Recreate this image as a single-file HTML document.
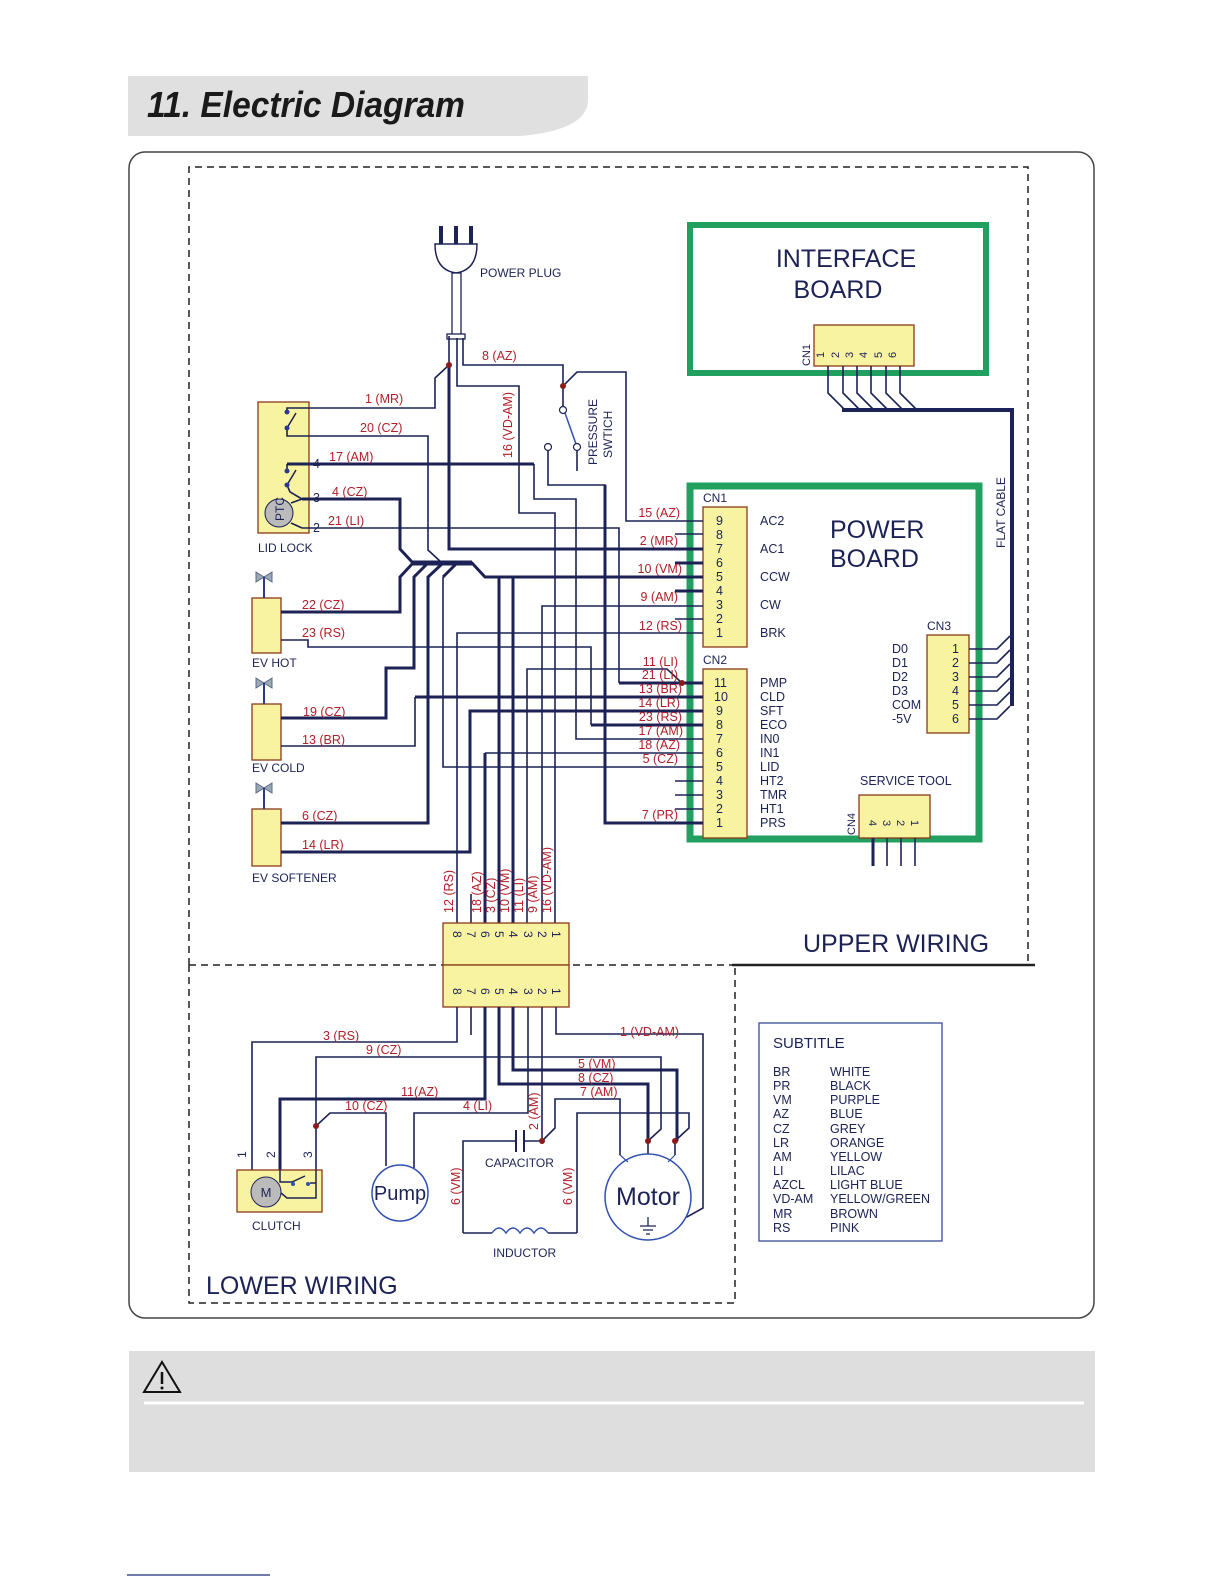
<!DOCTYPE html>
<html><head><meta charset="utf-8"><style>
body{margin:0;background:#fff}
svg{display:block}
text{font-family:"Liberation Sans",Arial,sans-serif}
.r{fill:#b0202a}
.k{fill:#1c2255}
.w{fill:none;stroke:#1c2255;stroke-width:1.6}
.t{fill:none;stroke:#1c2255;stroke-width:3}
.y{fill:#f8f3a0;stroke:#8a3a1a;stroke-width:1.3}
.d{fill:#8b1a1a}
</style></head><body>
<svg width="1224" height="1584" viewBox="0 0 1224 1584" xmlns="http://www.w3.org/2000/svg" font-size="12.5">
<!-- header -->
<path d="M128,76 H588 V100 Q588,130 520,136 H128 Z" fill="#e0e0e0"/>
<text x="147" y="117" font-size="36" font-weight="bold" font-style="italic" fill="#1a1a1a" textLength="318" lengthAdjust="spacingAndGlyphs">11. Electric Diagram</text>
<!-- frame -->
<rect x="129" y="152" width="965" height="1166" rx="16" fill="none" stroke="#444" stroke-width="1.5"/>
<!-- dashed regions -->
<g fill="none" stroke="#222" stroke-width="1.5" stroke-dasharray="7,5">
<path d="M189,965 V167 H1028 V965"/>
<path d="M189,965 H732"/>
<path d="M189,965 V1303 H735 V965"/>
</g>
<path d="M732,965 H1035" stroke="#222" stroke-width="2.5"/>
<text x="803" y="952" font-size="25" fill="#1c2255">UPPER WIRING</text>
<text x="206" y="1294" font-size="25" fill="#1c2255">LOWER WIRING</text>

<!-- interface board -->
<rect x="690" y="225" width="296" height="148" fill="none" stroke="#22a060" stroke-width="6"/>
<text x="846" y="267" font-size="25" fill="#1c2255" text-anchor="middle">INTERFACE</text>
<text x="838" y="298" font-size="25" fill="#1c2255" text-anchor="middle">BOARD</text>
<rect class="y" x="814" y="325" width="100" height="41"/>
<text transform="translate(810,366) rotate(-90)" class="k" font-size="11">CN1</text>
<g class="k" font-size="11">
<text transform="translate(824,358) rotate(-90)">1</text><text transform="translate(839,358) rotate(-90)">2</text><text transform="translate(853,358) rotate(-90)">3</text><text transform="translate(867,358) rotate(-90)">4</text><text transform="translate(882,358) rotate(-90)">5</text><text transform="translate(896,358) rotate(-90)">6</text>
</g>
<g class="w" stroke-width="1.3">
<path d="M828,366V393L845,410"/><path d="M843,366V393L860,410"/><path d="M857,366V393L874,410"/><path d="M871,366V393L888,410"/><path d="M886,366V393L903,410"/><path d="M900,366V393L917,410"/>
</g>
<path d="M842,410H1012V706" fill="none" stroke="#1c2255" stroke-width="4"/>
<text transform="translate(1005,548) rotate(-90)" class="k" font-size="12">FLAT CABLE</text>

<!-- power board -->
<rect x="690" y="486" width="289" height="353" fill="none" stroke="#22a060" stroke-width="7"/>
<text x="830" y="538" font-size="25" fill="#1c2255">POWER</text>
<text x="830" y="567" font-size="25" fill="#1c2255">BOARD</text>
<rect class="y" x="703" y="507" width="44" height="140"/>
<rect class="y" x="703" y="669" width="44" height="169"/>
<text x="703" y="502" class="k" font-size="12">CN1</text>
<text x="703" y="664" class="k" font-size="12">CN2</text>
<g class="k" font-size="12.5">
<text x="716" y="525">9</text><text x="716" y="539">8</text><text x="716" y="553">7</text><text x="716" y="567">6</text><text x="716" y="581">5</text><text x="716" y="595">4</text><text x="716" y="609">3</text><text x="716" y="623">2</text><text x="716" y="637">1</text>
<text x="760" y="525">AC2</text><text x="760" y="553">AC1</text><text x="760" y="581">CCW</text><text x="760" y="609">CW</text><text x="760" y="637">BRK</text>
<text x="714" y="687">11</text><text x="714" y="701">10</text><text x="716" y="715">9</text><text x="716" y="729">8</text><text x="716" y="743">7</text><text x="716" y="757">6</text><text x="716" y="771">5</text><text x="716" y="785">4</text><text x="716" y="799">3</text><text x="716" y="813">2</text><text x="716" y="827">1</text>
<text x="760" y="687">PMP</text><text x="760" y="701">CLD</text><text x="760" y="715">SFT</text><text x="760" y="729">ECO</text><text x="760" y="743">IN0</text><text x="760" y="757">IN1</text><text x="760" y="771">LID</text><text x="760" y="785">HT2</text><text x="760" y="799">TMR</text><text x="760" y="813">HT1</text><text x="760" y="827">PRS</text>
</g>
<rect class="y" x="927" y="635" width="42" height="98"/>
<text x="927" y="630" class="k" font-size="12">CN3</text>
<g class="k" font-size="12.5">
<text x="952" y="653">1</text><text x="952" y="667">2</text><text x="952" y="681">3</text><text x="952" y="695">4</text><text x="952" y="709">5</text><text x="952" y="723">6</text>
<text x="892" y="653">D0</text><text x="892" y="667">D1</text><text x="892" y="681">D2</text><text x="892" y="695">D3</text><text x="892" y="709">COM</text><text x="892" y="723">-5V</text>
</g>
<g class="w" stroke-width="1.3">
<path d="M969,649H997L1010,636"/><path d="M969,663H997L1010,650"/><path d="M969,677H997L1010,664"/><path d="M969,691H997L1010,678"/><path d="M969,705H997L1010,692"/><path d="M969,719H997L1010,706"/>
</g>
<text x="860" y="785" class="k" font-size="12.5">SERVICE TOOL</text>
<rect class="y" x="859" y="795" width="71" height="43"/>
<text transform="translate(855,835) rotate(-90)" class="k" font-size="11">CN4</text>
<g class="k" font-size="11">
<text transform="translate(869,820) rotate(90)">4</text><text transform="translate(883,820) rotate(90)">3</text><text transform="translate(897,820) rotate(90)">2</text><text transform="translate(911,820) rotate(90)">1</text>
</g>
<g class="w"><path d="M873,838V866"/><path d="M887,838V866"/><path d="M901,838V866"/><path d="M915,838V866"/></g>
<path d="M873,838V866" class="t"/>

<!-- power plug -->
<g stroke="#1c2255" stroke-width="4"><path d="M441,226V244"/><path d="M456,226V244"/><path d="M471,226V244"/></g>
<path d="M435,244 H477 Q477,270 456,273 Q435,270 435,244 Z" fill="#fff" stroke="#1c2255" stroke-width="1.5"/>
<rect x="452" y="273" width="9" height="62" fill="#fff" stroke="#1c2255" stroke-width="1.3"/>
<rect x="447" y="334" width="18" height="5" fill="#fff" stroke="#1c2255" stroke-width="1.3"/>
<text x="480" y="277" class="k" font-size="12">POWER PLUG</text>

<!-- lid lock -->
<rect class="y" x="258" y="402" width="51" height="131"/>
<text x="258" y="552" class="k" font-size="12">LID LOCK</text>
<circle cx="279" cy="513" r="14" fill="#bbb" stroke="#1c2255" stroke-width="1"/>
<text transform="translate(284,521) rotate(-90)" class="k" font-size="12">PTC</text>
<g class="k" font-size="12.5"><text x="313" y="468">4</text><text x="313" y="502">3</text><text x="313" y="532">2</text></g>

<!-- EV valves -->
<g>
<rect class="y" x="252" y="598" width="29" height="55"/>
<rect class="y" x="252" y="704" width="29" height="56"/>
<rect class="y" x="252" y="809" width="29" height="57"/>
<g fill="#9aa8b8" stroke="#5a6a80" stroke-width="1">
<path d="M256,572 L264,577 L256,582Z M272,572 L264,577 L272,582Z"/>
<path d="M256,678 L264,683 L256,688Z M272,678 L264,683 L272,688Z"/>
<path d="M256,783 L264,788 L256,793Z M272,783 L264,788 L272,793Z"/>
</g>
<g stroke="#2a3a8a" stroke-width="2"><path d="M264,577V598"/><path d="M264,683V704"/><path d="M264,788V809"/></g>
<text x="252" y="667" class="k" font-size="12">EV HOT</text>
<text x="252" y="772" class="k" font-size="12">EV COLD</text>
<text x="252" y="882" class="k" font-size="12">EV SOFTENER</text>
</g>

<!-- upper wires -->
<g class="w">
<path d="M449,336V365L435,378V408H287V412"/>
<path d="M457,338V386H519V513H555V923"/>
<path d="M463,338V365H563V407"/>
<path d="M563,386L577,372H626V521H703"/>
<path d="M577,450V471"/>
<path d="M548,450V485H605V823"/>
<path d="M287,428V436H428V550L442,563"/>
<path d="M534,464V499H576V739H703"/>
<path d="M302,528H619V683"/>
<path d="M527,923V669H667L682,683"/>
<path d="M281,746H415V697"/>
<path d="M470,852V711"/>
<path d="M281,640H308V647H591V725"/>
<path d="M485,753H703"/>
<path d="M457,923V633H703"/>
<path d="M542,923V606H703"/>
<path d="M471,894V923"/>
<path d="M443,577V767H703"/>
<path d="M675,534H703"/><path d="M675,619H703"/>
<path d="M675,781H703"/><path d="M675,795H703"/><path d="M675,809H703"/>
<path d="M287,471V464"/>
<path d="M287,485L290,492L302,499"/>
<path d="M291,503L302,499"/>
<path d="M291,523L302,528"/>
</g>
<g class="t">
<path d="M449,365V549H703"/>
<path d="M287,464H534"/>
<path d="M302,499H400V549L413,563"/>
<path d="M413,563H472L485,577H703"/>
<path d="M413,563L400,577V612H281"/>
<path d="M428,563L414,577V668H386V718H281"/>
<path d="M443,563L428,577V823H281"/>
<path d="M457,563L443,577"/>
<path d="M499,577V923"/><path d="M513,577V923"/>
<path d="M485,753V923"/>
<path d="M605,485V823H703"/>
<path d="M619,683H703"/>
<path d="M415,697H703"/>
<path d="M281,852H470V711H703"/>
<path d="M591,725H703"/>
<path d="M675,563H703"/><path d="M675,591H703"/>
</g>
<path d="M413,563H472" stroke="#1c2255" stroke-width="5"/>
<!-- switch blades -->
<g stroke="#1c2255" stroke-width="1.5"><path d="M287,428L296,413"/><path d="M287,485L296,470"/></g>
<g fill="#2a3a8a"><circle cx="287" cy="412" r="2.5"/><circle cx="287" cy="428" r="2.5"/><circle cx="287" cy="471" r="2.5"/><circle cx="287" cy="485" r="2.5"/></g>
<!-- pressure switch -->
<path d="M565,413L576,444" stroke="#3050b0" stroke-width="1.5"/>
<g fill="#fff" stroke="#1c2255" stroke-width="1.2"><circle cx="563" cy="410" r="3.5"/><circle cx="577" cy="447" r="3.5"/><circle cx="548" cy="447" r="3.5"/></g>
<text transform="translate(597,465) rotate(-90)" class="k" font-size="12">PRESSURE</text>
<text transform="translate(612,458) rotate(-90)" class="k" font-size="12">SWTICH</text>
<g class="d"><circle cx="449" cy="365" r="3"/><circle cx="563" cy="386" r="3"/><circle cx="682" cy="683" r="3"/></g>

<!-- upper labels -->
<g class="r">
<text x="365" y="403">1 (MR)</text>
<text x="360" y="432">20 (CZ)</text>
<text x="329" y="461">17 (AM)</text>
<text x="332" y="496">4 (CZ)</text>
<text x="328" y="525">21 (LI)</text>
<text x="482" y="360">8 (AZ)</text>
<text transform="translate(512,458) rotate(-90)">16 (VD-AM)</text>
<text x="302" y="609">22 (CZ)</text>
<text x="302" y="637">23 (RS)</text>
<text x="303" y="716">19 (CZ)</text>
<text x="302" y="744">13 (BR)</text>
<text x="302" y="820">6 (CZ)</text>
<text x="302" y="849">14 (LR)</text>
</g>
<g class="r" text-anchor="end">
<text x="680" y="517">15 (AZ)</text>
<text x="678" y="545">2 (MR)</text>
<text x="682" y="573">10 (VM)</text>
<text x="678" y="601">9 (AM)</text>
<text x="682" y="630">12 (RS)</text>
<text x="678" y="666">11 (LI)</text>
<text x="678" y="679">21 (LI)</text>
<text x="682" y="693">13 (BR)</text>
<text x="680" y="707">14 (LR)</text>
<text x="682" y="721">23 (RS)</text>
<text x="683" y="735">17 (AM)</text>
<text x="680" y="749">18 (AZ)</text>
<text x="678" y="763">5 (CZ)</text>
<text x="678" y="819">7 (PR)</text>
</g>
<g class="r">
<text transform="translate(453,913) rotate(-90)">12 (RS)</text>
<text transform="translate(481,913) rotate(-90)">18 (AZ)</text>
<text transform="translate(495,913) rotate(-90)">3 (CZ)</text>
<text transform="translate(509,913) rotate(-90)">10 (VM)</text>
<text transform="translate(523,913) rotate(-90)">11 (LI)</text>
<text transform="translate(537,913) rotate(-90)">9 (AM)</text>
<text transform="translate(551,913) rotate(-90)">16 (VD-AM)</text>
</g>

<!-- middle connector -->
<rect class="y" x="443" y="923" width="126" height="42"/>
<rect class="y" x="443" y="965" width="126" height="42"/>
<g class="k" font-size="12">
<text transform="translate(453,931) rotate(90)">8</text><text transform="translate(467,931) rotate(90)">7</text><text transform="translate(481,931) rotate(90)">6</text><text transform="translate(495,931) rotate(90)">5</text><text transform="translate(509,931) rotate(90)">4</text><text transform="translate(524,931) rotate(90)">3</text><text transform="translate(538,931) rotate(90)">2</text><text transform="translate(552,931) rotate(90)">1</text>
<text transform="translate(453,988) rotate(90)">8</text><text transform="translate(467,988) rotate(90)">7</text><text transform="translate(481,988) rotate(90)">6</text><text transform="translate(495,988) rotate(90)">5</text><text transform="translate(509,988) rotate(90)">4</text><text transform="translate(524,988) rotate(90)">3</text><text transform="translate(538,988) rotate(90)">2</text><text transform="translate(552,988) rotate(90)">1</text>
</g>

<!-- lower wires -->
<g class="w">
<path d="M457,1007V1042H252V1170L262,1180"/>
<path d="M471,1007V1035"/>
<path d="M528,1007V1113H414V1168"/>
<path d="M556,1007V1034H703V1208L687,1217H648V1226"/>
<path d="M316,1180V1057H661V1129L648,1141"/>
<path d="M316,1126L330,1113H386V1166"/>
<path d="M542,1007V1141"/>
<path d="M542,1141L555,1128V1099H620V1155"/>
<path d="M675,1141V1155"/>
<path d="M577,1233V1113H689V1128L675,1141"/>
<path d="M463,1233V1141H516"/><path d="M524,1141H542"/>
<path d="M463,1233H492"/><path d="M548,1233H577"/>
<path d="M648,1141V1155"/>
</g>
<g class="t">
<path d="M485,1007V1099H280V1180"/>
<path d="M499,1007V1084H648V1141"/>
<path d="M513,1007V1070H677V1141"/>
</g>
<g stroke="#1c2255" stroke-width="2"><path d="M516,1130V1152"/><path d="M524,1130V1152"/></g>
<path d="M492,1233 q7,-10 14,0 q7,-10 14,0 q7,-10 14,0 q7,-10 14,0" fill="none" stroke="#3050b0" stroke-width="1.5"/>
<g class="d"><circle cx="316" cy="1126" r="3"/><circle cx="542" cy="1141" r="3"/><circle cx="648" cy="1141" r="3"/><circle cx="675" cy="1141" r="3"/></g>
<!-- clutch -->
<rect class="y" x="237" y="1170" width="85" height="42"/>
<circle cx="266" cy="1192" r="15" fill="#bbb" stroke="#1c2255"/>
<text x="266" y="1197" text-anchor="middle" class="k" font-size="13">M</text>
<path d="M280,1170V1182H292L305,1176M310,1183H316V1170M316,1183V1198H287L281,1193" fill="none" stroke="#1c2255" stroke-width="1.5"/>
<g fill="#3050b0"><circle cx="293" cy="1184" r="2"/><circle cx="308" cy="1184" r="2"/></g>
<g class="k" font-size="12"><text transform="translate(246,1158) rotate(-90)">1</text><text transform="translate(275,1158) rotate(-90)">2</text><text transform="translate(312,1158) rotate(-90)">3</text></g>
<text x="252" y="1230" class="k" font-size="12">CLUTCH</text>
<!-- pump -->
<circle cx="400" cy="1193" r="28" fill="#fff" stroke="#3050b0" stroke-width="1.5"/>
<text x="400" y="1200" text-anchor="middle" class="k" font-size="20">Pump</text>
<!-- motor -->
<circle cx="648" cy="1197" r="43" fill="#fff" stroke="#3050b0" stroke-width="1.5"/>
<path d="M620,1155L628,1162M675,1155L668,1162" stroke="#3050b0" stroke-width="1.2"/>
<text x="648" y="1205" text-anchor="middle" class="k" font-size="25">Motor</text>
<path d="M648,1217V1226M640,1226H656M643,1230H653M646,1234H650" stroke="#1c2255" stroke-width="1.3"/>
<text x="485" y="1167" class="k" font-size="12">CAPACITOR</text>
<text x="493" y="1257" class="k" font-size="12">INDUCTOR</text>
<!-- lower labels -->
<g class="r">
<text x="323" y="1040">3 (RS)</text>
<text x="366" y="1054">9 (CZ)</text>
<text x="401" y="1096">11(AZ)</text>
<text x="345" y="1110">10 (CZ)</text>
<text x="463" y="1110">4 (LI)</text>
<text x="620" y="1036">1 (VD-AM)</text>
<text x="578" y="1068">5 (VM)</text>
<text x="578" y="1082">8 (CZ)</text>
<text x="580" y="1096">7 (AM)</text>
<text transform="translate(538,1130) rotate(-90)">2 (AM)</text>
<text transform="translate(460,1205) rotate(-90)">6 (VM)</text>
<text transform="translate(572,1205) rotate(-90)">6 (VM)</text>
</g>

<!-- legend -->
<rect x="759" y="1023" width="183" height="218" fill="none" stroke="#3a4a9a" stroke-width="1.3"/>
<text x="773" y="1048" class="k" font-size="15">SUBTITLE</text>
<g class="k" font-size="12.5">
<text x="773" y="1076">BR</text><text x="830" y="1076">WHITE</text>
<text x="773" y="1090">PR</text><text x="830" y="1090">BLACK</text>
<text x="773" y="1104">VM</text><text x="830" y="1104">PURPLE</text>
<text x="773" y="1118">AZ</text><text x="830" y="1118">BLUE</text>
<text x="773" y="1133">CZ</text><text x="830" y="1133">GREY</text>
<text x="773" y="1147">LR</text><text x="830" y="1147">ORANGE</text>
<text x="773" y="1161">AM</text><text x="830" y="1161">YELLOW</text>
<text x="773" y="1175">LI</text><text x="830" y="1175">LILAC</text>
<text x="773" y="1189">AZCL</text><text x="830" y="1189">LIGHT BLUE</text>
<text x="773" y="1203">VD-AM</text><text x="830" y="1203">YELLOW/GREEN</text>
<text x="773" y="1218">MR</text><text x="830" y="1218">BROWN</text>
<text x="773" y="1232">RS</text><text x="830" y="1232">PINK</text>
</g>

<!-- warning -->
<rect x="129" y="1351" width="966" height="121" fill="#dedede"/>
<path d="M144,1403H1084" stroke="#fff" stroke-width="3"/>
<path d="M162,1362L180,1392H144Z" fill="none" stroke="#111" stroke-width="2"/>
<path d="M162,1372V1384" stroke="#111" stroke-width="2.5"/>
<circle cx="162" cy="1388" r="1.5" fill="#111"/>
<path d="M127,1575H270" stroke="#1c2a80" stroke-width="1.2"/>
</svg>
</body></html>
